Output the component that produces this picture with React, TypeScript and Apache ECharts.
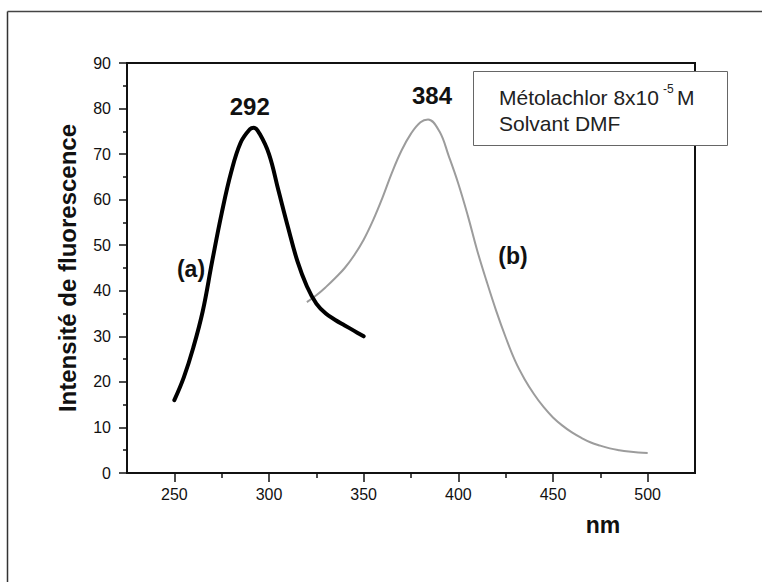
import React, { useEffect, useRef } from "react";
import * as echarts from "echarts";

// Curve (a): excitation spectrum (nm, intensity)
const waveA = [250, 255, 260, 265, 270, 275, 280, 285, 290, 292, 295, 300, 305, 310, 315, 320, 325, 330, 335, 340, 345, 350];
const intensA = [16, 21, 27.5, 35.5, 46.5, 57, 66, 72.5, 75.5, 75.8, 74.5, 70, 62, 54, 46.5, 41, 37.2, 35, 33.6, 32.4, 31.2, 30];

// Curve (b): emission spectrum
const waveB = [320, 325, 330, 335, 340, 345, 350, 355, 360, 365, 370, 375, 380, 384, 390, 395, 400, 405, 410, 415, 420, 425, 430, 435, 440, 445, 450, 455, 460, 465, 470, 475, 480, 485, 490, 495, 500];
const intensB = [37.5, 39, 40.8, 42.8, 45, 47.8, 51.2, 55.5, 60.5, 66, 70.8, 74.5, 77, 77.6, 75, 69.5, 63.5, 56.5, 48.8, 42, 35.6, 29.8, 24.6, 20.6, 17.3, 14.5, 12.2, 10.4, 8.9, 7.7, 6.7, 6.0, 5.4, 5.0, 4.7, 4.5, 4.4];

const xMajorTicks = [250, 300, 350, 400, 450, 500];
const xMinorTicks = [275, 325, 375, 425, 475];

const peakLabels = ["292", "384"];
const curveLabels = ["(a)", "(b)"];
const yAxisTitle = "Intensité de fluorescence";
const xAxisTitle = "nm";
const legendLine1 = "Métolachlor 8x10";
const legendSup = "-5";
const legendUnit = "M";
const legendLine2 = "Solvant DMF";

const FONT = "'Liberation Sans', Arial, Helvetica, sans-serif";

export default function App() {
  const ref = useRef<HTMLDivElement>(null);
  useEffect(() => {
    if (!ref.current) return;
    const chart = echarts.init(ref.current, null, { renderer: "svg" });
    const pairs = (xs: number[], ys: number[]) => xs.map((x, i) => [x, ys[i]]);
    const axisColor = "#111";
    const option: any = {
      animation: false,
      backgroundColor: "#ffffff",
      grid: {
        left: 127,
        top: 63,
        right: 67,
        bottom: 109,
        containLabel: false,
        outerBoundsMode: "none",
        show: true,
        borderColor: axisColor,
        borderWidth: 2,
        backgroundColor: "transparent",
      },
      xAxis: [
        {
          type: "value",
          min: 225,
          max: 525,
          splitLine: { show: false },
          axisLine: { show: true, onZero: false, lineStyle: { color: axisColor, width: 2 } },
          axisTick: { show: true, inside: false, length: 9, customValues: xMajorTicks, lineStyle: { color: axisColor, width: 1.5 } },
          axisLabel: { show: true, customValues: xMajorTicks, margin: 13, color: "#111", fontSize: 16, fontFamily: FONT },
        },
        {
          type: "value",
          min: 225,
          max: 525,
          position: "bottom",
          splitLine: { show: false },
          axisLine: { show: false },
          axisTick: { show: true, inside: false, length: 5, customValues: xMinorTicks, lineStyle: { color: axisColor, width: 1.5 } },
          axisLabel: { show: false },
        },
      ],
      yAxis: {
        type: "value",
        min: 0,
        max: 90,
        interval: 10,
        name: yAxisTitle,
        nameLocation: "middle",
        nameRotate: 90,
        nameGap: 48,
        nameTextStyle: { fontSize: 24, fontWeight: "bold", color: "#111", fontFamily: FONT },
        splitLine: { show: false },
        axisLine: { show: true, onZero: false, lineStyle: { color: axisColor, width: 2 } },
        axisTick: { show: true, inside: false, length: 8, lineStyle: { color: axisColor, width: 1.5 } },
        minorTick: { show: true, splitNumber: 2, length: 4, lineStyle: { color: axisColor, width: 1.5 } },
        minorSplitLine: { show: false },
        axisLabel: { margin: 16, color: "#111", fontSize: 16, fontFamily: FONT },
      },
      series: [
        {
          type: "line",
          name: "a",
          data: pairs(waveA, intensA),
          smooth: 0.4,
          showSymbol: false,
          lineStyle: { color: "#000", width: 4, cap: "round", join: "round" },
          z: 3,
        },
        {
          type: "line",
          name: "b",
          data: pairs(waveB, intensB),
          smooth: 0.4,
          showSymbol: false,
          lineStyle: { color: "#9c9c9c", width: 2 },
          z: 2,
        },
      ],
      graphic: [
        {
          type: "line",
          shape: { x1: 7.5, y1: 11.5, x2: 7.5, y2: 582 },
          style: { stroke: "#333", lineWidth: 1.5 },
        },
        {
          type: "line",
          shape: { x1: 7.5, y1: 11.5, x2: 762, y2: 11.5 },
          style: { stroke: "#444", lineWidth: 1.5 },
        },
        {
          type: "text",
          x: 249.7,
          y: 106,
          style: { text: peakLabels[0], font: `bold 24px ${FONT}`, fill: "#111", align: "center", verticalAlign: "middle" },
        },
        {
          type: "text",
          x: 432,
          y: 95,
          style: { text: peakLabels[1], font: `bold 24px ${FONT}`, fill: "#111", align: "center", verticalAlign: "middle" },
        },
        {
          type: "text",
          x: 191,
          y: 269,
          style: { text: curveLabels[0], font: `bold 23px ${FONT}`, fill: "#111", align: "center", verticalAlign: "middle" },
        },
        {
          type: "text",
          x: 513,
          y: 256,
          style: { text: curveLabels[1], font: `bold 23px ${FONT}`, fill: "#111", align: "center", verticalAlign: "middle" },
        },
        {
          type: "text",
          x: 603,
          y: 525,
          style: { text: xAxisTitle, font: `bold 23px ${FONT}`, fill: "#111", align: "center", verticalAlign: "middle" },
        },
        {
          type: "group",
          z: 100,
          children: [
            {
              type: "rect",
              shape: { x: 473.5, y: 71.5, width: 254, height: 74 },
              style: { fill: "#fff", stroke: "#666", lineWidth: 1 },
            },
            {
              type: "text",
              x: 499,
              y: 97.5,
              style: { text: legendLine1, font: `21px ${FONT}`, fill: "#222", align: "left", verticalAlign: "middle" },
            },
            {
              type: "text",
              x: 663,
              y: 89,
              style: { text: legendSup, font: `12px ${FONT}`, fill: "#222", align: "left", verticalAlign: "middle" },
            },
            {
              type: "text",
              x: 677,
              y: 97.5,
              style: { text: legendUnit, font: `21px ${FONT}`, fill: "#222", align: "left", verticalAlign: "middle" },
            },
            {
              type: "text",
              x: 499,
              y: 123.5,
              style: { text: legendLine2, font: `21px ${FONT}`, fill: "#222", align: "left", verticalAlign: "middle" },
            },
          ],
        },
      ],
    };
    chart.setOption(option);
    return () => chart.dispose();
  }, []);
  return (
    <div
      ref={ref}
      style={{ position: "absolute", left: 0, top: 0, width: 762, height: 582, background: "#fff" }}
    />
  );
}
